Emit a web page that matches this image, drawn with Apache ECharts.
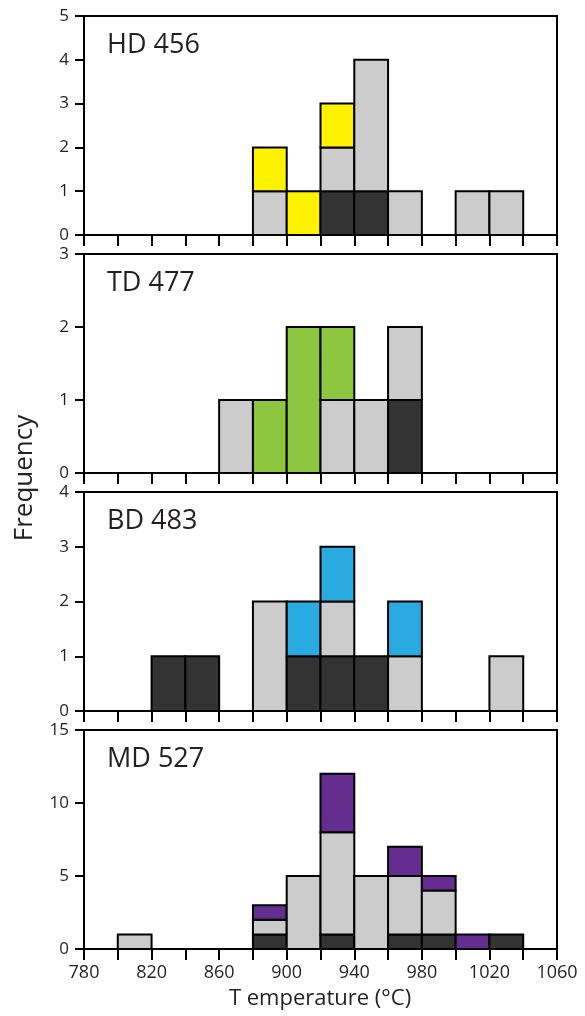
<!DOCTYPE html>
<html>
<head>
<meta charset="utf-8">
<style>
  html, body { margin: 0; padding: 0; background: #fff; }
  #chart { width: 585px; height: 1016px; }
</style>
<script src="https://cdn.jsdelivr.net/npm/echarts@6/dist/echarts.min.js"></script>
</head>
<body>
<div id="chart"></div>
<script>
// Temperature bins (lower edge, °C), 20 °C wide
const binStarts = [780, 800, 820, 840, 860, 880, 900, 920, 940, 960, 980, 1000, 1020, 1040];
const binWidth = 20;
const xTicks = [780, 820, 860, 900, 940, 980, 1020, 1060];

const sampleNames = ['HD 456', 'TD 477', 'BD 483', 'MD 527'];
const yMax = [5, 3, 4, 15];
const yStep = [1, 1, 1, 5];

// Counts per bin: dark (bottom), grey (middle), coloured (top)
const hdDark   = [0,0,0,0,0,0,0,1,1,0,0,0,0,0];
const hdGrey   = [0,0,0,0,0,1,0,1,3,1,0,1,1,0];
const hdColour = [0,0,0,0,0,1,1,1,0,0,0,0,0,0];

const tdDark   = [0,0,0,0,0,0,0,0,0,1,0,0,0,0];
const tdGrey   = [0,0,0,0,1,0,0,1,1,1,0,0,0,0];
const tdColour = [0,0,0,0,0,1,2,1,0,0,0,0,0,0];

const bdDark   = [0,0,1,1,0,0,1,1,1,0,0,0,0,0];
const bdGrey   = [0,0,0,0,0,2,0,1,0,1,0,0,1,0];
const bdColour = [0,0,0,0,0,0,1,1,0,1,0,0,0,0];

const mdDark   = [0,0,0,0,0,1,0,1,0,1,1,0,1,0];
const mdGrey   = [0,1,0,0,0,1,5,7,5,4,3,0,0,0];
const mdColour = [0,0,0,0,0,1,0,4,0,2,1,1,0,0];

const panelData = [
  [hdDark, hdGrey, hdColour],
  [tdDark, tdGrey, tdColour],
  [bdDark, bdGrey, bdColour],
  [mdDark, mdGrey, mdColour]
];
const topColours = ['#FFF200', '#8DC63F', '#29ABE2', '#662D91'];
const DARK = '#333333';
const GREY = '#CCCCCC';
const INK = '#231F20';
const FONT = '"Open Sans", "Noto Sans", sans-serif';

const panelTop = [16, 254, 492, 730];
const panelHeight = 219;
const left = 84, right = 28;

// Stacked histogram segments: [binStart, base, top, layer]
function stackSegments(layers) {
  const out = [];
  binStarts.forEach((b, j) => {
    let base = 0;
    layers.forEach((vals, k) => {
      const v = vals[j];
      if (v > 0) {
        out.push([b, base, base + v, k]);
        base += v;
      }
    });
  });
  return out;
}

const grid = [], xAxis = [], yAxis = [], series = [], graphic = [];

panelTop.forEach((top, i) => {
  const isLast = i === panelTop.length - 1;
  grid.push({
    left: left, right: right, top: top, height: panelHeight,
    show: true, borderColor: '#000', borderWidth: 2, backgroundColor: '#fff'
  });
  xAxis.push({
    type: 'value', gridIndex: i, position: 'bottom',
    min: 780, max: 1060, interval: 20,
    axisLine: { show: true, lineStyle: { color: '#000', width: 2 } },
    axisTick: { show: true, inside: false, length: 11, lineStyle: { color: '#000', width: 2 } },
    splitLine: { show: false },
    axisLabel: {
      show: isLast, margin: 15, fontFamily: FONT, fontSize: 18, color: INK,
      formatter: v => (xTicks.indexOf(v) >= 0 ? String(v) : '')
    }
  });
  yAxis.push({
    type: 'value', gridIndex: i, min: 0, max: yMax[i], interval: yStep[i],
    axisLine: { show: true, lineStyle: { color: '#000', width: 2 } },
    axisTick: { show: true, inside: false, length: 9, lineStyle: { color: '#000', width: 2 } },
    splitLine: { show: false },
    axisLabel: { margin: 15, fontFamily: FONT, fontSize: 17, color: INK }
  });

  const colours = [DARK, GREY, topColours[i]];
  series.push({
    type: 'custom', xAxisIndex: i, yAxisIndex: i,
    data: stackSegments(panelData[i]),
    encode: { x: [0], y: [1, 2] },
    renderItem: (params, api) => {
      const x0 = api.value(0);
      const p0 = api.coord([x0, api.value(1)]);
      const p1 = api.coord([x0 + binWidth, api.value(2)]);
      return {
        type: 'rect',
        shape: { x: p0[0], y: p1[1], width: p1[0] - p0[0], height: p0[1] - p1[1] },
        style: { fill: colours[api.value(3)], stroke: '#000', lineWidth: 2 }
      };
    },
    silent: true,
    animation: false
  });

  graphic.push({
    type: 'text', x: 107, y: top + 29,
    style: { text: sampleNames[i], font: '27px ' + FONT, fill: INK, verticalAlign: 'middle' }
  });
});

graphic.push({
  type: 'text', x: 25, y: 478, rotation: Math.PI / 2,
  style: { text: 'Frequency', font: '26px ' + FONT, fill: INK, align: 'center', verticalAlign: 'middle' }
});
graphic.push({
  type: 'text', x: 320, y: 999,
  style: { text: 'T emperature (°C)', font: '22px ' + FONT, fill: INK, align: 'center', verticalAlign: 'middle' }
});

const chart = echarts.init(document.getElementById('chart'), null, { renderer: 'canvas' });
chart.setOption({
  animation: false,
  backgroundColor: '#fff',
  grid, xAxis, yAxis, series, graphic
});
</script>
</body>
</html>
